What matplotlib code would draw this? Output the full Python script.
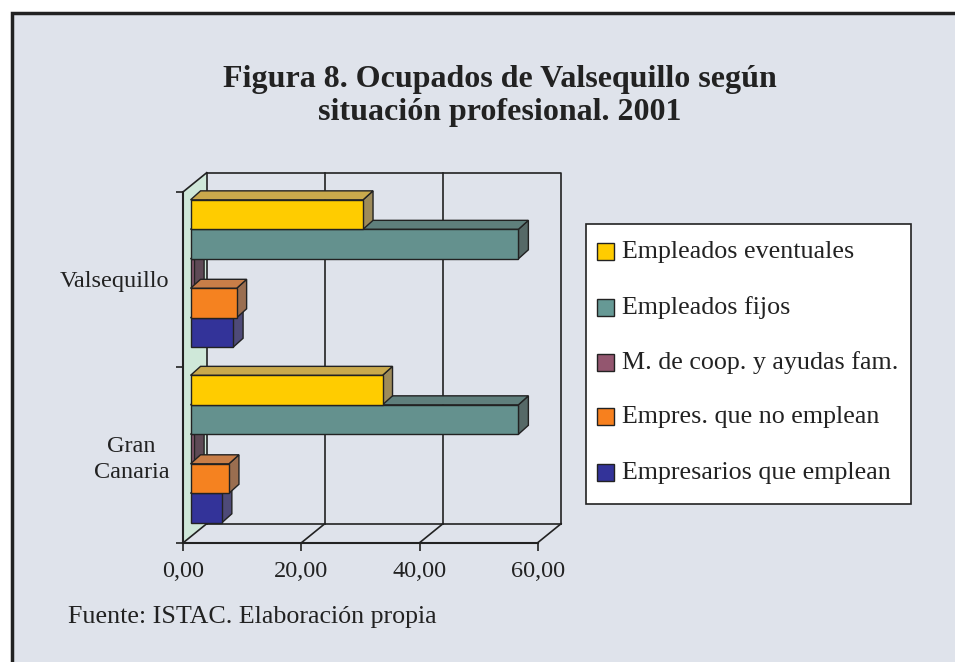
import matplotlib
matplotlib.use("Agg")
import matplotlib.pyplot as plt
from matplotlib.patches import Rectangle, Polygon

W, H = 955, 662

# datos (%)
categorias = ["Gran\nCanaria", "Valsequillo"]
series = [
    "Empleados eventuales",
    "Empleados fijos",
    "M. de coop. y ayudas fam.",
    "Empres. que no emplean",
    "Empresarios que emplean",
]
valsequillo = [29.2, 55.5, 0.6, 7.8, 7.2]
gran_canaria = [32.5, 55.5, 0.6, 6.5, 5.3]
valores = [gran_canaria, valsequillo]
xticks = [0, 20, 40, 60]

# colores: frente, techo, lateral
COL_FRENTE = ["#FFCC00", "#64918E", "#8A5A72", "#F58220", "#333399"]
COL_TECHO = ["#C9A94C", "#5F7F7C", "#6E5262", "#C87E48", "#4A4882"]
COL_LADO = ["#9E8B5A", "#566967", "#5E4A56", "#9A6E50", "#4E4A78"]
COL_LEYENDA = ["#FFCC00", "#669995", "#93566F", "#F7801E", "#333399"]

FONDO = "#DFE3EB"
TINTA = "#222222"
SERIF = ["Liberation Serif", "DejaVu Serif"]


def fig_xy(x, y):
    """pixeles (desde arriba a la izquierda) -> fraccion de figura"""
    return x / W, 1 - y / H


fig = plt.figure(figsize=(W / 100, H / 100), dpi=100)
fig.patch.set_facecolor("white")

# marco exterior
fig.add_artist(Rectangle(fig_xy(11.5, H + 20), (W + 20) / W, (H + 20 - 13) / H,
                         transform=fig.transFigure, facecolor=FONDO,
                         edgecolor=TINTA, linewidth=2.5, zorder=0))

# plano frontal del grafico
x0, x1, y0, y1 = 183.3, 537.7, 191.7, 542.7
ax = fig.add_axes([x0 / W, 1 - y1 / H, (x1 - x0) / W, (y1 - y0) / H])
ax.set_xlim(0, 60)
ax.set_ylim(0, 2)
ax.patch.set_visible(False)

ux = (x1 - x0) / 60      # px por unidad x
uy = (y1 - y0) / 2       # px por unidad y
DX, DY = 23.4 / ux, 19.0 / uy          # profundidad del cubo
F0 = 0.31                               # posicion del frente de las barras
BDX, BDY = 10.0 / ux, 9.0 / uy         # profundidad de las barras
BH = 0.168                              # alto de cada barra

lw = 1.2
# pared izquierda
ax.add_patch(Polygon([(0, 0), (DX, DY), (DX, 2 + DY), (0, 2)], closed=True,
                     facecolor="#CFE8D9", edgecolor="none", clip_on=False, zorder=1))
ax.plot([0, DX], [2, 2 + DY], color=TINTA, lw=lw, clip_on=False, zorder=2)
# pared del fondo y rejilla
ax.plot([DX, 60 + DX, 60 + DX], [2 + DY, 2 + DY, DY], color=TINTA, lw=lw, clip_on=False, zorder=2)
for xv in xticks[:-1]:
    ax.plot([xv + DX, xv + DX], [DY, 2 + DY], color=TINTA, lw=lw, clip_on=False, zorder=2)
# suelo
ax.plot([DX, 60 + DX], [DY, DY], color=TINTA, lw=lw, clip_on=False, zorder=2)
for xv in xticks:
    ax.plot([xv, xv + DX], [0, DY], color=TINTA, lw=lw, clip_on=False, zorder=2)

# barras 3D
bx = F0 * DX
by = F0 * DY
orden = [2, 4, 3, 1, 0]
for c, vals in enumerate(valores):
    top_grupo = c + 0.5 + 2.5 * BH + by
    for j in orden:
        v = vals[j]
        top = top_grupo - j * BH
        bot = top - BH
        kw = dict(closed=True, edgecolor=TINTA, linewidth=1.0, clip_on=False, zorder=3)
        ax.add_patch(Polygon([(bx + v, bot), (bx + v + BDX, bot + BDY),
                              (bx + v + BDX, top + BDY), (bx + v, top)],
                             facecolor=COL_LADO[j], **kw))
        ax.add_patch(Polygon([(bx, top), (bx + v, top), (bx + v + BDX, top + BDY),
                              (bx + BDX, top + BDY)], facecolor=COL_TECHO[j], **kw))
        ax.add_patch(Rectangle((bx, bot), v, BH, facecolor=COL_FRENTE[j],
                               edgecolor=TINTA, linewidth=1.0, clip_on=False, zorder=3))

# ejes
for s in ["top", "right"]:
    ax.spines[s].set_visible(False)
for s in ["left", "bottom"]:
    ax.spines[s].set_color(TINTA)
    ax.spines[s].set_linewidth(1.5)
ax.set_xticks(xticks)
ax.set_xticklabels([f"{t:.2f}".replace(".", ",") for t in xticks],
                   fontsize=17.5, family=SERIF, color=TINTA)
ax.tick_params(axis="x", direction="out", length=6, width=1.2, color=TINTA, pad=7)
ax.set_yticks([0, 1, 2])
ax.set_yticklabels([])
ax.tick_params(axis="y", which="major", direction="out", length=5, width=1.2, color=TINTA)
ax.set_yticks([0.5, 1.5], minor=True)
ax.set_yticklabels(categorias, minor=True, fontsize=17.5, family=SERIF, color=TINTA)
ax.tick_params(axis="y", which="minor", length=0, pad=10)
for lab in ax.get_yticklabels(minor=True):
    lab.set_multialignment("center")
    lab.set_linespacing(1.3)

# titulo
fig.text(*fig_xy(499.5, 96), "Figura 8. Ocupados de Valsequillo según\nsituación profesional. 2001",
         ha="center", va="center", fontsize=23, fontweight="bold", family=SERIF,
         color=TINTA, linespacing=1.15)

# fuente
fig.text(*fig_xy(68.3, 616.7), "Fuente: ISTAC. Elaboración propia", ha="left", va="center",
         fontsize=18.7, family=SERIF, color=TINTA)

# leyenda
lx0, ly0, lx1, ly1 = 585.5, 224, 910.7, 504
fig.add_artist(Rectangle(fig_xy(lx0, ly1), (lx1 - lx0) / W, (ly1 - ly0) / H,
                         transform=fig.transFigure, facecolor="white",
                         edgecolor=TINTA, linewidth=1.2, zorder=4))
ly_centros = [251.7, 307.0, 362.7, 416.7, 472.3]
for nombre, col, yc in zip(series, COL_LEYENDA, ly_centros):
    sq = 17.0
    fig.add_artist(Rectangle(fig_xy(597, yc + sq / 2), sq / W, sq / H,
                             transform=fig.transFigure, facecolor=col,
                             edgecolor=TINTA, linewidth=1.0, zorder=5))
    fig.text(*fig_xy(621.7, yc + 6.6), nombre, ha="left", va="baseline",
             fontsize=18.7, family=SERIF, color=TINTA, zorder=5)

fig.savefig("out.png", dpi=100)
